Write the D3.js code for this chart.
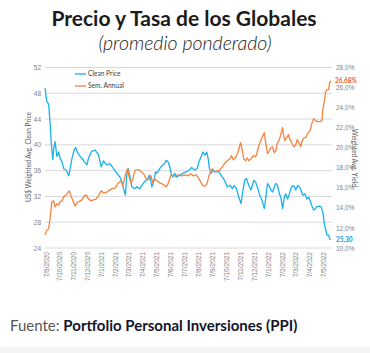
<!DOCTYPE html>
<head>
<meta charset="utf-8">
<script src="https://d3js.org/d3.v7.min.js"></script>
<style>
    body { margin: 0; background: #fff; }
    svg { display: block; font-family: Lato, "Open Sans", sans-serif; }
    .axis text { fill: #7f7f7f; font-size: 6.5px; }
</style>
</head>
<body>
<svg></svg>
<script>
    var width = 370;
    var height = 353;

    // ---- data ----
    var priceDates = ["5/9/2020","9/9/2020","13/9/2020","16/9/2020","19/9/2020","22/9/2020","24/9/2020","27/9/2020",
        "1/10/2020","5/10/2020","8/10/2020","12/10/2020","16/10/2020","21/10/2020","27/10/2020","30/10/2020",
        "3/11/2020","8/11/2020","11/11/2020","16/11/2020","21/11/2020","25/11/2020","30/11/2020","6/12/2020",
        "9/12/2020","16/12/2020","24/12/2020","31/12/2020","6/1/2021","11/1/2021","18/1/2021","25/1/2021",
        "2/2/2021","9/2/2021","16/2/2021","20/2/2021","24/2/2021","28/2/2021","3/3/2021","6/3/2021",
        "11/3/2021","14/3/2021","20/3/2021","25/3/2021","31/3/2021","5/4/2021","11/4/2021","16/4/2021",
        "22/4/2021","27/4/2021","1/5/2021","5/5/2021","8/5/2021","14/5/2021","17/5/2021","25/5/2021",
        "28/5/2021","1/6/2021","5/6/2021","8/6/2021","12/6/2021","16/6/2021","19/6/2021","27/6/2021",
        "4/7/2021","11/7/2021","18/7/2021","23/7/2021","29/7/2021","4/8/2021","8/8/2021","13/8/2021",
        "17/8/2021","21/8/2021","25/8/2021","28/8/2021","31/8/2021","4/9/2021","8/9/2021","13/9/2021",
        "21/9/2021","28/9/2021","3/10/2021","9/10/2021","15/10/2021","20/10/2021","24/10/2021","29/10/2021",
        "3/11/2021","8/11/2021","13/11/2021","16/11/2021","20/11/2021","25/11/2021","30/11/2021","6/12/2021",
        "10/12/2021","15/12/2021","19/12/2021","24/12/2021","29/12/2021","2/1/2022","5/1/2022","10/1/2022",
        "12/1/2022","16/1/2022","20/1/2022","23/1/2022","27/1/2022","31/1/2022","3/2/2022","7/2/2022",
        "11/2/2022","14/2/2022","18/2/2022","22/2/2022","25/2/2022","1/3/2022","5/3/2022","8/3/2022",
        "12/3/2022","16/3/2022","19/3/2022","23/3/2022","28/3/2022","1/4/2022","5/4/2022","9/4/2022",
        "12/4/2022","16/4/2022","20/4/2022","23/4/2022","28/4/2022","2/5/2022","6/5/2022","10/5/2022",
        "13/5/2022","15/5/2022","19/5/2022","21/5/2022","24/5/2022"];
    var cleanPrice = [48.8,46.7,46.3,43.5,40.0,37.7,39.4,40.5,
        38.2,38.9,37.9,37.4,36.3,36.1,35.2,36.3,
        37.9,39.2,39.6,38.7,38.2,37.9,37.4,36.9,
        37.9,39.0,39.2,38.5,36.6,37.5,36.9,37.1,
        36.3,35.6,35.0,34.3,33.2,32.2,35.3,36.3,
        34.8,33.5,33.2,33.5,33.2,33.7,34.3,34.6,
        35.3,33.5,34.3,35.8,35.6,36.3,36.6,37.1,
        37.6,37.4,36.6,35.6,35.0,35.6,35.0,35.3,
        35.6,35.8,36.1,36.5,36.1,36.3,37.4,38.2,
        38.9,38.4,38.9,37.9,36.3,35.6,36.1,35.8,
        35.8,35.0,34.5,33.5,33.7,33.2,33.7,33.2,
        31.9,30.9,33.2,34.5,34.8,33.7,33.0,34.5,
        34.2,33.2,32.2,31.4,30.1,32.2,34.0,33.5,
        33.0,32.7,33.5,34.0,33.7,32.4,31.9,30.1,
        31.9,32.4,31.6,32.4,33.2,33.7,33.5,33.0,
        33.7,33.5,33.0,32.2,32.4,31.6,31.9,31.2,
        30.6,29.9,30.1,30.4,30.5,30.4,29.6,27.5,
        26.7,26.0,26.0,25.4,25.3];

    var yieldDates = ["5/9/2020","9/9/2020","13/9/2020","16/9/2020","20/9/2020","24/9/2020","27/9/2020","1/10/2020",
        "5/10/2020","8/10/2020","12/10/2020","16/10/2020","19/10/2020","23/10/2020","28/10/2020","1/11/2020",
        "6/11/2020","10/11/2020","16/11/2020","21/11/2020","25/11/2020","30/11/2020","4/12/2020","9/12/2020",
        "15/12/2020","20/12/2020","26/12/2020","31/12/2020","6/1/2021","11/1/2021","16/1/2021","22/1/2021",
        "29/1/2021","6/2/2021","11/2/2021","16/2/2021","19/2/2021","22/2/2021","26/2/2021","2/3/2021",
        "5/3/2021","9/3/2021","12/3/2021","16/3/2021","20/3/2021","23/3/2021","29/3/2021","3/4/2021",
        "9/4/2021","14/4/2021","20/4/2021","25/4/2021","29/4/2021","3/5/2021","8/5/2021","14/5/2021",
        "19/5/2021","25/5/2021","28/5/2021","1/6/2021","5/6/2021","8/6/2021","16/6/2021","23/6/2021",
        "30/6/2021","8/7/2021","15/7/2021","21/7/2021","26/7/2021","2/8/2021","8/8/2021","13/8/2021",
        "17/8/2021","23/8/2021","26/8/2021","30/8/2021","3/9/2021","6/9/2021","11/9/2021","17/9/2021",
        "23/9/2021","28/9/2021","3/10/2021","9/10/2021","15/10/2021","18/10/2021","22/10/2021","27/10/2021",
        "1/11/2021","7/11/2021","11/11/2021","14/11/2021","18/11/2021","22/11/2021","25/11/2021","30/11/2021",
        "5/12/2021","10/12/2021","13/12/2021","17/12/2021","21/12/2021","24/12/2021","29/12/2021","1/1/2022",
        "5/1/2022","9/1/2022","12/1/2022","16/1/2022","20/1/2022","23/1/2022","27/1/2022","31/1/2022",
        "3/2/2022","7/2/2022","9/2/2022","12/2/2022","16/2/2022","20/2/2022","23/2/2022","27/2/2022",
        "4/3/2022","8/3/2022","11/3/2022","15/3/2022","19/3/2022","22/3/2022","26/3/2022","30/3/2022",
        "1/4/2022","5/4/2022","9/4/2022","12/4/2022","16/4/2022","20/4/2022","25/4/2022","30/4/2022",
        "4/5/2022","6/5/2022","10/5/2022","12/5/2022","15/5/2022","19/5/2022","21/5/2022","24/5/2022"];
    var semAnnual = [11.3,11.8,11.9,12.9,14.6,14.7,14.1,14.4,
        14.3,14.6,14.7,15.1,15.2,15.4,15.7,15.2,
        14.6,14.2,14.6,14.7,14.8,15.2,15.3,14.9,
        14.7,14.8,14.9,15.2,15.7,15.5,15.5,15.7,
        15.9,16.0,16.4,16.6,16.7,16.2,16.9,17.6,
        17.9,16.9,16.5,16.8,17.6,17.8,17.8,17.6,
        17.4,16.9,16.8,17.2,16.5,16.9,16.7,16.5,
        16.4,16.2,16.1,16.4,16.9,17.3,17.2,17.3,
        17.2,17.3,17.2,17.4,17.2,17.3,16.9,16.5,
        16.2,16.2,16.5,17.2,17.7,17.9,17.6,17.7,
        17.8,18.1,18.4,18.7,18.9,19.2,18.8,19.0,
        19.5,20.5,19.7,18.9,18.7,19.0,18.7,18.9,
        19.2,19.1,19.5,20.2,20.7,21.0,21.5,20.5,
        19.4,19.7,20.0,20.1,19.5,19.7,20.5,20.8,
        21.3,22.0,21.3,20.7,21.0,21.3,20.8,20.5,
        20.1,20.3,20.8,20.5,20.1,20.7,21.0,21.0,
        21.3,21.5,21.8,22.4,22.9,22.7,22.6,22.6,
        22.7,23.8,24.8,25.5,25.8,25.8,26.5,26.68];

    var xTickLabels = ["7/9/2020","7/10/2020","7/11/2020","7/12/2020","7/1/2021","7/2/2021","7/3/2021",
        "7/4/2021","7/5/2021","7/6/2021","7/7/2021","7/8/2021","7/9/2021","7/10/2021","7/11/2021",
        "7/12/2021","7/1/2022","7/2/2022","7/3/2022","7/4/2022","7/5/2022"];
    var priceTicks = [24, 28, 32, 36, 40, 44, 48, 52];
    var yieldTicks = [10, 12, 14, 16, 18, 20, 22, 24, 26, 28];

    var blue = "#1ab0ee";
    var orange = "#f7833f";

    var parseDate = d3.timeParse("%d/%m/%Y");
    var comma = d3.formatLocale({decimal: ",", thousands: ".", grouping: [3], currency: ["", ""]});
    var fmtPct = comma.format(".1f");
    var fmt2 = comma.format(".2f");

    var svg = d3.select("svg")
        .attr("width", width)
        .attr("height", height);

    // background strip at the very bottom
    svg.append("rect").attr("x", 0).attr("y", 347).attr("width", width).attr("height", 6).attr("fill", "#f4f4f4");

    // **** TITLE ****
    svg.append("text")
        .attr("x", 184).attr("y", 26)
        .attr("text-anchor", "middle")
        .style("font-size", "21px").style("font-weight", "700").style("fill", "#1b1b1b")
        .text("Precio y Tasa de los Globales");
    svg.append("text")
        .attr("x", 185).attr("y", 50)
        .attr("text-anchor", "middle")
        .style("font-size", "19.5px").style("font-style", "italic").style("font-weight", "300").style("fill", "#1b1b1b")
        .text("(promedio ponderado)");

    // **** SCALES ****
    var x = d3.scaleTime()
        .domain([parseDate("5/9/2020"), parseDate("24/5/2022")])
        .range([45, 331]);
    var yPrice = d3.scaleLinear().domain([24, 52]).range([248, 67.5]);
    var yYield = d3.scaleLinear().domain([10, 28]).range([248, 67.5]);

    // gridlines on the price ticks
    svg.append("g").selectAll("line")
        .data(priceTicks)
        .enter().append("line")
        .attr("x1", 45).attr("x2", 332)
        .attr("y1", function(d){ return yPrice(d); })
        .attr("y2", function(d){ return yPrice(d); })
        .attr("stroke", "#d9d9d9").attr("stroke-width", 1);

    // left axis
    var leftAxis = svg.append("g").attr("class", "axis")
        .attr("transform", "translate(41,0)")
        .call(d3.axisLeft(yPrice).tickValues(priceTicks).tickSize(0).tickPadding(0));
    leftAxis.select(".domain").remove();

    // right axis
    var rightAxis = svg.append("g").attr("class", "axis")
        .attr("transform", "translate(336,0)")
        .call(d3.axisRight(yYield).tickValues(yieldTicks).tickSize(0).tickPadding(0)
            .tickFormat(function(d){ return fmtPct(d) + "%"; }));
    rightAxis.select(".domain").remove();

    // bottom axis with rotated date labels
    var bottomAxis = svg.append("g").attr("class", "axis")
        .attr("transform", "translate(0,252)")
        .call(d3.axisBottom(x).tickValues(xTickLabels.map(parseDate)).tickSize(0)
            .tickFormat(function(d, i){ return xTickLabels[i]; }));
    bottomAxis.select(".domain").remove();
    bottomAxis.selectAll("text")
        .attr("transform", "rotate(-90)")
        .attr("x", 0).attr("y", 0).attr("dx", 0).attr("dy", "0.32em")
        .style("text-anchor", "end");

    // axis titles
    svg.append("text")
        .attr("transform", "translate(31,157) rotate(-90)")
        .attr("text-anchor", "middle")
        .style("font-size", "6.6px").style("fill", "#595959")
        .text("US$ Weighted Avg. Clean Price");
    svg.append("text")
        .attr("transform", "translate(352,158) rotate(90)")
        .attr("text-anchor", "middle")
        .style("font-size", "6.6px").style("fill", "#595959")
        .text("Weighted Avg. Yield");

    // **** LINES ****
    var priceLine = d3.line()
        .x(function(d){ return x(d[0]); })
        .y(function(d){ return yPrice(d[1]); });
    var yieldLine = d3.line()
        .x(function(d){ return x(d[0]); })
        .y(function(d){ return yYield(d[1]); });

    svg.append("path")
        .datum(priceDates.map(function(s, i){ return [parseDate(s), cleanPrice[i]]; }))
        .attr("d", priceLine)
        .attr("fill", "none").attr("stroke", blue).attr("stroke-width", 1.3).attr("stroke-linejoin", "round");
    svg.append("path")
        .datum(yieldDates.map(function(s, i){ return [parseDate(s), semAnnual[i]]; }))
        .attr("d", yieldLine)
        .attr("fill", "none").attr("stroke", orange).attr("stroke-width", 1.3).attr("stroke-linejoin", "round");

    // end-of-series labels
    var lastYield = semAnnual[semAnnual.length - 1];
    var lastPrice = cleanPrice[cleanPrice.length - 1];
    svg.append("text")
        .attr("x", 335).attr("y", yYield(lastYield) + 2.5)
        .style("font-size", "6.5px").style("font-weight", "700").style("fill", "#f05a28")
        .text(fmt2(lastYield) + "%");
    svg.append("text")
        .attr("x", 336).attr("y", yPrice(lastPrice) + 2)
        .style("font-size", "6.5px").style("font-weight", "700").style("fill", "#0a9de0")
        .text(fmt2(lastPrice));

    // **** LEGEND ****
    var legend = [["Clean Price", blue], ["Sem. Annual", orange]];
    var lg = svg.append("g").selectAll("g")
        .data(legend)
        .enter().append("g")
        .attr("transform", function(d, i){ return "translate(75," + (74 + i * 12) + ")"; });
    lg.append("line").attr("x1", 0).attr("x2", 11).attr("stroke", function(d){ return d[1]; }).attr("stroke-width", 1.3);
    lg.append("text").attr("x", 13).attr("y", 2.3)
        .style("font-size", "6.6px").style("fill", "#404040")
        .text(function(d){ return d[0]; });

    // **** SOURCE ****
    var src = svg.append("text")
        .attr("x", 10).attr("y", 331)
        .style("font-size", "15px");
    src.append("tspan").style("fill", "#555").text("Fuente: ");
    src.append("tspan").style("fill", "#14142b").style("font-weight", "700").text("Portfolio Personal Inversiones (PPI)");
</script>
</body>
